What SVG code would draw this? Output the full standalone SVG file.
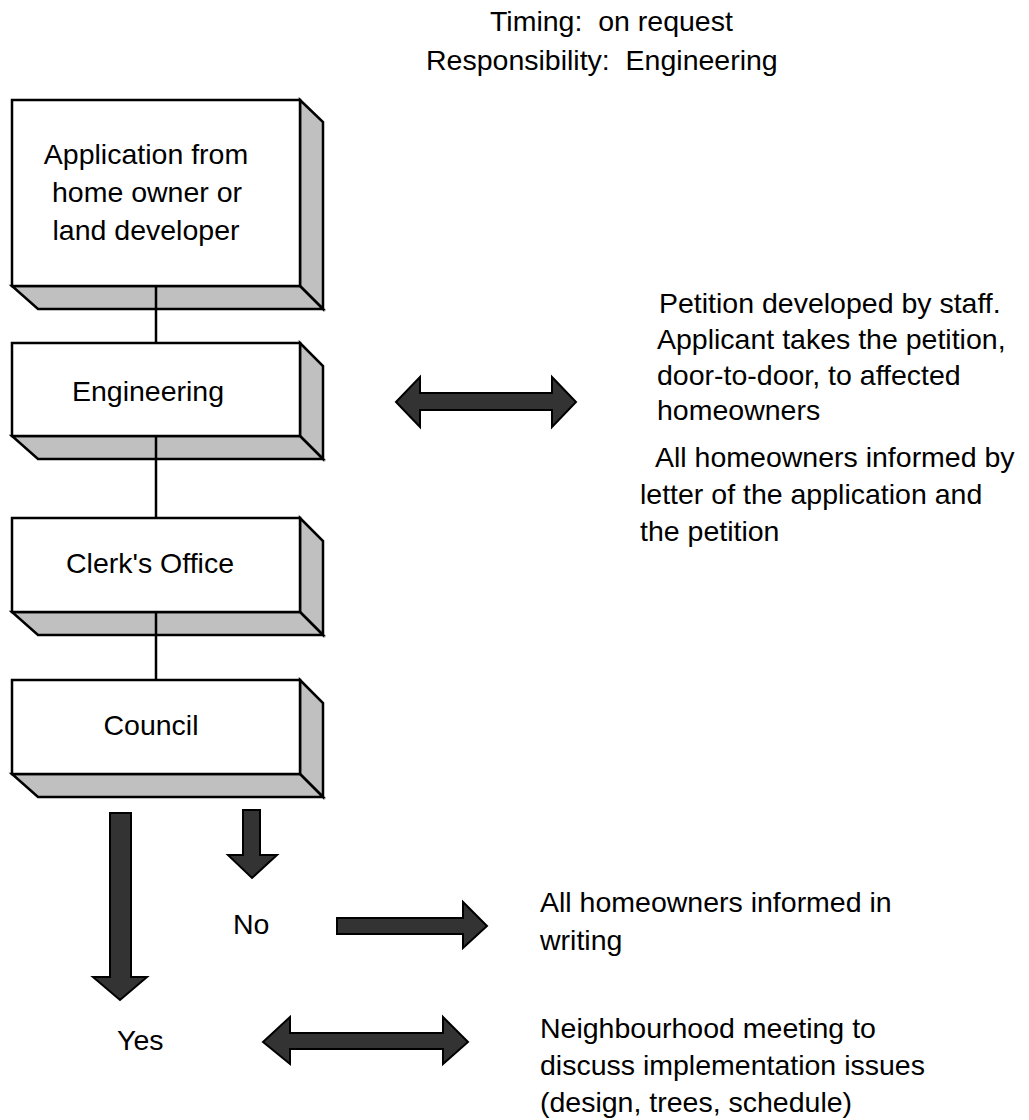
<svg xmlns="http://www.w3.org/2000/svg" width="1029" height="1120" viewBox="0 0 1029 1120">
  <style>
    text { font-family: "Liberation Sans", Arial, sans-serif; font-size: 28.5px; fill: #000; }
    .front { fill: #fff; stroke: #000; stroke-width: 2.5; }
    .side { fill: #c0c0c0; stroke: #000; stroke-width: 2.5; stroke-linejoin: miter; }
    .link { stroke: #000; stroke-width: 2.5; fill: none; }
    .block { fill: #333333; stroke: #000; stroke-width: 2; stroke-linejoin: miter; }
    .c { text-anchor: middle; }
  </style>

  <!-- header -->
  <g id="header">
    <text x="490" y="31" xml:space="preserve">Timing:  on request</text>
    <text x="426" y="70" xml:space="preserve">Responsibility:  Engineering</text>
  </g>

  <!-- process boxes (front face, right face, bottom face) -->
  <g id="application">
    <polygon class="side" points="300,100 323,122 323,309 300,286"/>
    <polygon class="side" points="12,286 300,286 323,309 38,309"/>
    <rect class="front" x="12" y="100" width="288" height="186"/>
    <text class="c" x="146" y="164">Application from</text>
    <text class="c" x="147" y="202">home owner or</text>
    <text class="c" x="146" y="240">land developer</text>
  </g>

  <g id="engineering">
    <polygon class="side" points="300,343 323,366 323,459 300,436"/>
    <polygon class="side" points="12,436 300,436 323,459 38,459"/>
    <rect class="front" x="12" y="343" width="288" height="93"/>
    <text class="c" x="148" y="401">Engineering</text>
  </g>

  <g id="clerks-office">
    <polygon class="side" points="300,518 323,541 323,635 300,612"/>
    <polygon class="side" points="12,612 300,612 323,635 38,635"/>
    <rect class="front" x="12" y="518" width="288" height="94"/>
    <text class="c" x="150" y="573">Clerk's Office</text>
  </g>

  <g id="council">
    <polygon class="side" points="300,680 323,703 323,797 300,774"/>
    <polygon class="side" points="12,774 300,774 323,797 38,797"/>
    <rect class="front" x="12" y="680" width="288" height="94"/>
    <text class="c" x="151" y="735">Council</text>
  </g>

  <!-- side notes -->
  <g id="petition-note">
    <text x="659" y="313">Petition developed by staff.</text>
    <text x="657" y="349">Applicant takes the petition,</text>
    <text x="657" y="385">door-to-door, to affected</text>
    <text x="657" y="420">homeowners</text>
  </g>

  <g id="letter-note">
    <text x="655" y="467">All homeowners informed by</text>
    <text x="640" y="504">letter of the application and</text>
    <text x="640" y="541">the petition</text>
  </g>

  <g id="no-label">
    <text x="233" y="934">No</text>
  </g>

  <g id="yes-label">
    <text x="117" y="1050">Yes</text>
  </g>

  <g id="writing-note">
    <text x="540" y="912">All homeowners informed in</text>
    <text x="540" y="950">writing</text>
  </g>

  <g id="meeting-note">
    <text x="540" y="1038">Neighbourhood meeting to</text>
    <text x="540" y="1075">discuss implementation issues</text>
    <text x="540" y="1112">(design, trees, schedule)</text>
  </g>

  <!-- connectors -->
  <g id="connectors">
    <line class="link" x1="156" y1="286" x2="156" y2="343"/>
    <line class="link" x1="156" y1="436" x2="156" y2="518"/>
    <line class="link" x1="156" y1="612" x2="156" y2="680"/>

    <!-- engineering <-> petition -->
    <polygon class="block" points="396,402 420,377 420,393 552,393 552,377 576,402 552,427 552,410 420,410 420,427"/>
    <!-- council: no -->
    <polygon class="block" points="243,810 260,810 260,855 277,855 252,878 228,855 243,855"/>
    <!-- council: yes -->
    <polygon class="block" points="110,813 131,813 131,977 147,977 120,1000 93,977 110,977"/>
    <!-- no -> written notice -->
    <polygon class="block" points="337,918 463,918 463,902 487,926 463,948 463,934 337,934"/>
    <!-- yes <-> meeting -->
    <polygon class="block" points="263,1042 290,1017 290,1033 443,1033 443,1017 468,1042 443,1064 443,1049 290,1049 290,1064"/>
  </g>
</svg>
